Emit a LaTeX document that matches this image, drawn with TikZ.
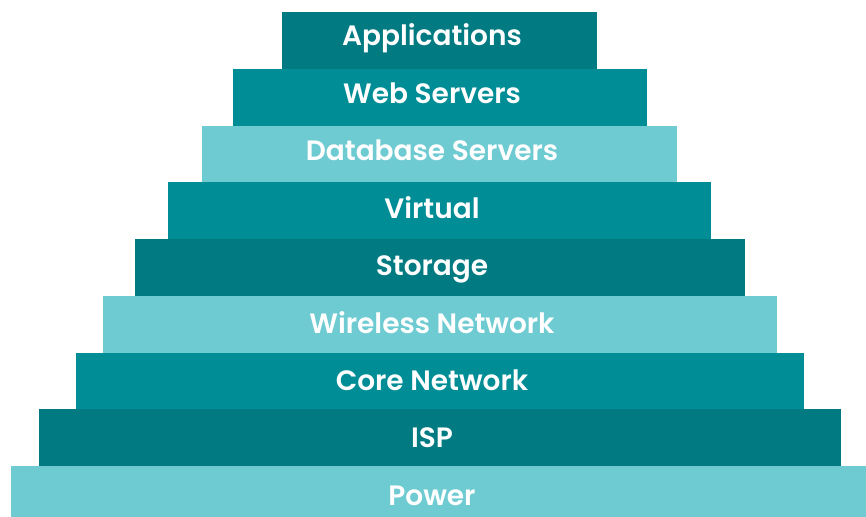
\documentclass[tikz,border=0pt]{standalone}
\usepackage{fontspec}
\setmainfont{Poppins}[BoldFont={* SemiBold}]
\usetikzlibrary{positioning}
\definecolor{tealdark}{RGB}{2,122,130}
\definecolor{tealmid}{RGB}{0,141,149}
\definecolor{teallight}{RGB}{111,203,210}

\begin{document}
\begin{tikzpicture}[x=1pt,y=1pt]
  \tikzstyle{every node}=[inner sep=0,outer sep=0]
  \tikzstyle{layer}=[rectangle,draw=none,minimum height=57.25]
  \tikzstyle{tag}=[text=white,font=\fontsize{28}{30}\selectfont\bfseries,anchor=base]
  \useasboundingbox (0,0) rectangle (866,-516);
  % one layer per row, top to bottom
  \foreach \n/\l/\r/\c/\t in {0/282/597/tealdark/Applications,
                              1/233/647/tealmid/Web Servers,
                              2/202/677/teallight/Database Servers,
                              3/168/711/tealmid/Virtual,
                              4/135/745/tealdark/Storage,
                              5/103/777/teallight/Wireless Network,
                              6/76/804/tealmid/Core Network,
                              7/39/841/tealdark/ISP,
                              8/11/869/teallight/Power} {
    \pgfmathsetmacro\w{\r-\l}
    \pgfmathsetmacro\cx{(\l+\r)/2}
    \pgfmathsetmacro\cy{-(12+56.75*\n+28.625)}
    \pgfmathsetmacro\by{-(46+57.4*\n)}
    \node[layer,fill=\c,minimum width=\w] (l\n) at (\cx,\cy) {};
    \node[tag] (t\n) at (432,\by) {\t};
  }
\end{tikzpicture}
\end{document}
